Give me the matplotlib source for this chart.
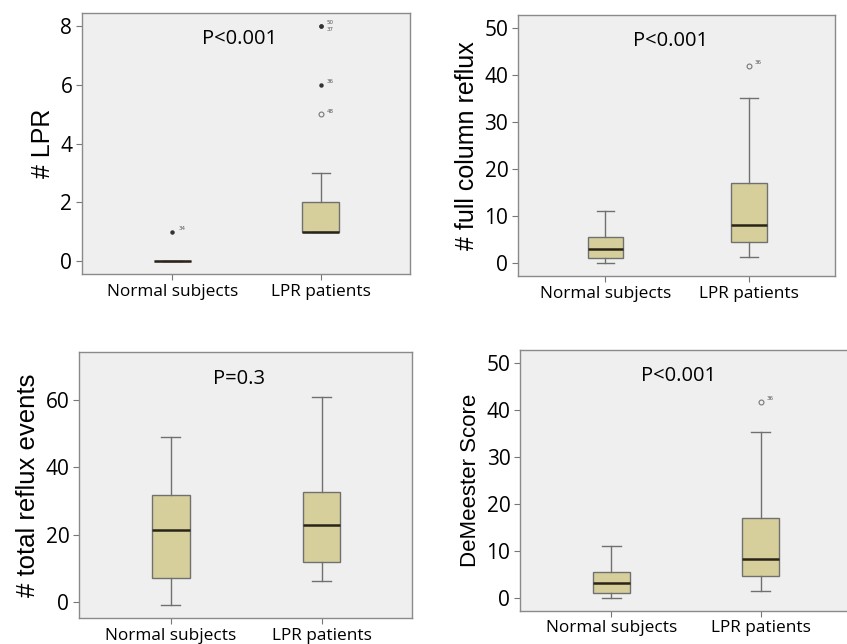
import numpy as np
import matplotlib
matplotlib.use("Agg")
import matplotlib.pyplot as plt

groups = ["Normal subjects", "LPR patients"]

# box stats per panel: [normal, lpr] -> (whislo, q1, med, q3, whishi)
lpr_stats = [(0, 0, 0, 0, 0), (1, 1, 1, 2, 3)]
full_stats = [(0, 1, 3, 5.5, 11), (1.2, 4.5, 8, 17, 35.2)]
total_stats = [(-0.8, 7.3, 21.5, 31.8, 49), (6.4, 11.9, 23, 32.6, 61)]
demeester_stats = [(0, 1, 3, 5.5, 11), (1.3, 4.5, 8.2, 17, 35.2)]

# outliers: (group index, value, label, kind)  kind: '*' extreme, 'o' outlier
lpr_out = [(0, 1, "34", "*"), (1, 5, "48", "o"), (1, 6, "36", "*"),
           (1, 8, "50", "*"), (1, 8, "37", "*")]
full_out = [(1, 42, "36", "o")]
total_out = []
demeester_out = [(1, 41.7, "36", "o")]

panels = [
    dict(stats=lpr_stats, out=lpr_out, ylabel="# LPR", yl=18, ticks=[0, 2, 4, 6, 8],
         ylim=(-0.44, 8.44), p="P<0.001", pos=[0.0968, 0.5745, 0.387, 0.405]),
    dict(stats=full_stats, out=full_out, ylabel="# full column reflux", yl=18,
         ticks=[0, 10, 20, 30, 40, 50], ylim=(-2.8, 52.8), p="P<0.001",
         pos=[0.6116, 0.5714, 0.374, 0.405]),
    dict(stats=total_stats, out=total_out, ylabel="# total reflux events", yl=18.5,
         ticks=[0, 20, 40, 60], ylim=(-4.7, 74.2), p="P=0.3",
         pos=[0.0933, 0.0404, 0.393, 0.413]),
    dict(stats=demeester_stats, out=demeester_out, ylabel="DeMeester Score", yl=16,
         ticks=[0, 10, 20, 30, 40, 50], ylim=(-2.8, 52.7), p="P<0.001",
         pos=[0.614, 0.0517, 0.39, 0.405]),
]

box_fill = "#d6cf9b"
edge = "#707070"

fig = plt.figure(figsize=(8.47, 6.44), dpi=100)

for pn in panels:
    ax = fig.add_axes(pn["pos"])
    ax.set_facecolor("#efefef")
    bstats = []
    for s in pn["stats"]:
        bstats.append(dict(whislo=s[0], q1=s[1], med=s[2], q3=s[3], whishi=s[4], fliers=[]))
    ax.bxp(bstats, positions=[1, 2], widths=0.25, patch_artist=True, showfliers=False,
           boxprops=dict(facecolor=box_fill, edgecolor=edge, linewidth=1.0),
           whiskerprops=dict(color=edge, linewidth=1.0),
           capprops=dict(color=edge, linewidth=1.0),
           medianprops=dict(color="#2a2418", linewidth=1.8))
    seen = {}
    for g, v, lab, kind in pn["out"]:
        x = g + 1
        k = (g, v)
        n = seen.get(k, 0)
        seen[k] = n + 1
        if kind == "*":
            ax.plot(x, v, marker="o", ms=2.2, color="#333333", mec="#333333")
        else:
            ax.plot(x, v, marker="o", ms=3.5, mfc="none", mec="#777777", mew=0.8)
        dy = (pn["ylim"][1] - pn["ylim"][0]) * (0.012 if n == 0 else -0.012)
        ax.text(x + 0.04, v + dy, lab, fontsize=4, color="#555555", va="center")
    ax.set_xlim(0.39, 2.6)
    ax.set_ylim(*pn["ylim"])
    ax.set_yticks(pn["ticks"])
    ax.set_xticks([1, 2])
    ax.set_xticklabels(groups, fontsize=12.4, family="Open Sans")
    for t in ax.get_yticklabels():
        t.set_fontsize(15)
        t.set_family("Open Sans")
    ax.tick_params(color="#777777", length=4, width=0.8, pad=3)
    for sp in ax.spines.values():
        sp.set_color("#8a8a8a")
        sp.set_linewidth(1.0)
    ax.set_ylabel(pn["ylabel"], fontsize=pn["yl"], family="Liberation Sans", labelpad=4)
    ax.text(0.48, 0.9, pn["p"], transform=ax.transAxes, fontsize=14.5,
            family="Open Sans", ha="center", va="center")

fig.savefig("out.png", dpi=100)
